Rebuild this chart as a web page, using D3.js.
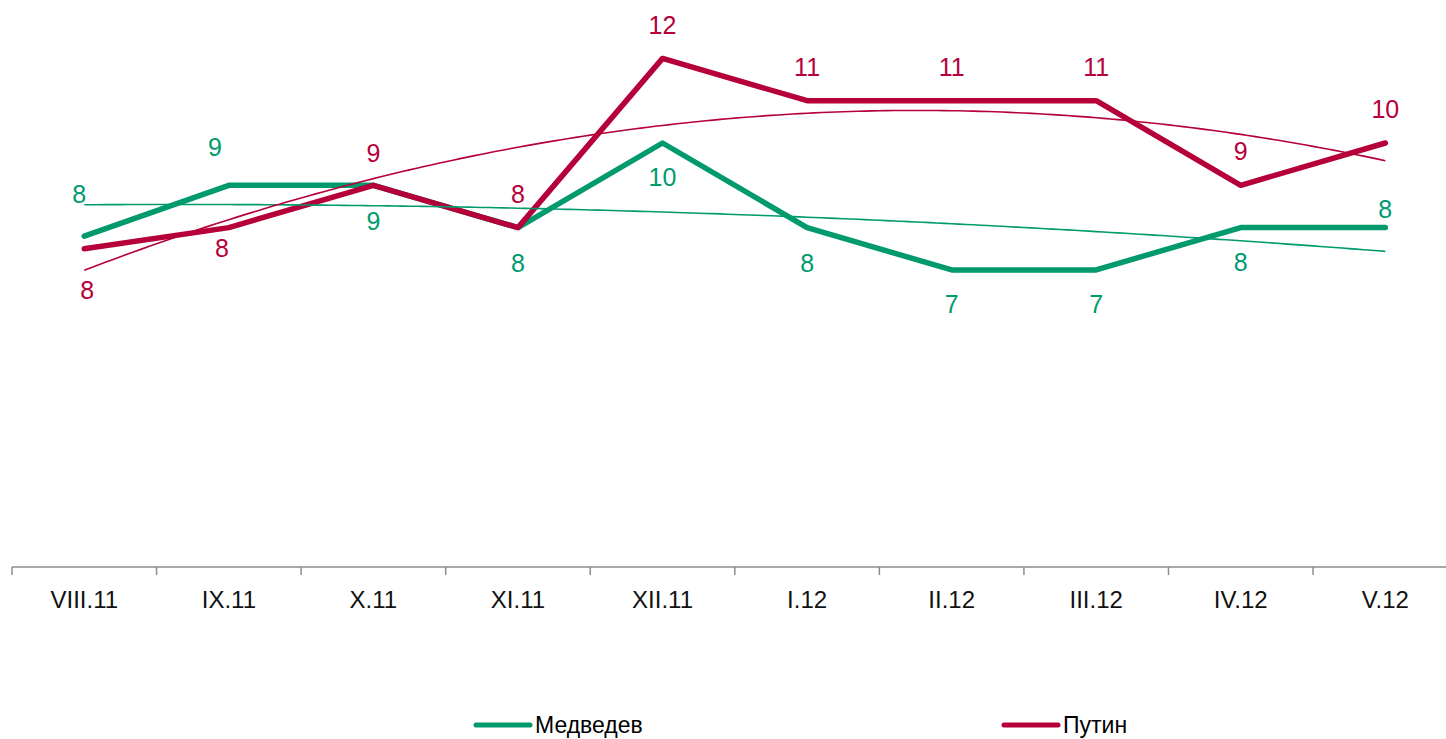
<!DOCTYPE html>
<html>
<head>
<meta charset="utf-8">
<script src="https://cdn.jsdelivr.net/npm/d3@7"></script>
<style>
  html, body { margin: 0; padding: 0; background: #fff; }
  svg { display: block; }
</style>
</head>
<body>
<svg id="chart" width="1446" height="739"></svg>
<script>
// ---- data ----
const categories = ["VIII.11", "IX.11", "X.11", "XI.11", "XII.11", "I.12", "II.12", "III.12", "IV.12", "V.12"];
const medvedev = [7.8, 9, 9, 8, 10, 8, 7, 7, 8, 8];
const putin    = [7.5, 8, 9, 8, 12, 11, 11, 11, 9, 10];
const seriesNames = ["Медведев", "Путин"];

// ---- layout (label offsets in px, relative to the point) ----
const medLabelOffset = [[-5, -42], [-14, -38.5], [0, 35.5], [0, 35.5], [0, 34], [0, 35.5], [0, 34], [0, 34], [0, 34.5], [0, -18.5]];
const putLabelOffset = [[3, 41], [-7, 20.5], [0, -32.5], [0, -33.5], [0, -33.5], [0, -33.5], [0, -33.5], [0, -33.5], [0, -34], [0, -33.5]];

const GREEN = "#009a6e";
const RED = "#b5003a";
const FONT = "'Liberation Sans', Arial, sans-serif";

const svg = d3.select("#chart");

const x = d3.scaleBand().domain(categories).range([12, 12 + 10 * 144.56]).paddingInner(0).paddingOuter(0);
const cx = c => x(c) + x.bandwidth() / 2;
const y = d3.scaleLinear().domain([0, 12]).range([566, 58.4]);

// ---- axis ----
const axisY = 567;
const xAxis = d3.axisBottom(x).tickSize(0).tickPadding(0);
const gAxis = svg.append("g").attr("transform", `translate(0,${axisY})`).call(xAxis);
gAxis.select(".domain").remove();
gAxis.selectAll(".tick text")
  .attr("y", 41)
  .attr("dy", 0)
  .style("font-family", FONT)
  .style("font-size", "24px")
  .attr("fill", "#111");
svg.append("line")
  .attr("x1", 12).attr("x2", 1446).attr("y1", axisY).attr("y2", axisY)
  .attr("stroke", "#8c8c8c").attr("stroke-width", 1.5);
svg.append("g").selectAll("line").data(categories).join("line")
  .attr("x1", d => x(d)).attr("x2", d => x(d))
  .attr("y1", axisY).attr("y2", axisY + 8)
  .attr("stroke", "#8c8c8c").attr("stroke-width", 1.5);

// ---- quadratic trend (least squares, like a spreadsheet polynomial trendline) ----
function quadFit(vals) {
  const xs = vals.map((_, i) => i + 1);
  let S = [0, 0, 0, 0, 0], T = [0, 0, 0];
  xs.forEach((xi, i) => {
    for (let k = 0; k < 5; k++) S[k] += Math.pow(xi, k);
    for (let k = 0; k < 3; k++) T[k] += Math.pow(xi, k) * vals[i];
  });
  const A = [[S[0], S[1], S[2]], [S[1], S[2], S[3]], [S[2], S[3], S[4]]];
  const b = T.slice();
  for (let i = 0; i < 3; i++) {
    for (let j = i + 1; j < 3; j++) {
      const f = A[j][i] / A[i][i];
      for (let k = i; k < 3; k++) A[j][k] -= f * A[i][k];
      b[j] -= f * b[i];
    }
  }
  const c = [0, 0, 0];
  for (let i = 2; i >= 0; i--) {
    let s = b[i];
    for (let k = i + 1; k < 3; k++) s -= A[i][k] * c[k];
    c[i] = s / A[i][i];
  }
  return t => c[0] + c[1] * t + c[2] * t * t;
}

const line = d3.line().x(d => d[0]).y(d => d[1]);

function drawSeries(vals, color) {
  svg.append("path")
    .datum(vals.map((v, i) => [cx(categories[i]), y(v)]))
    .attr("d", line)
    .attr("fill", "none")
    .attr("stroke", color)
    .attr("stroke-width", 5.5)
    .attr("stroke-linejoin", "round")
    .attr("stroke-linecap", "round");
}
function drawTrend(vals, color) {
  const f = quadFit(vals);
  const step = x.bandwidth();
  const pts = d3.range(1, vals.length + 0.001, 0.05).map(t => [cx(categories[0]) + (t - 1) * step, y(f(t))]);
  svg.append("path")
    .datum(pts)
    .attr("d", line)
    .attr("fill", "none")
    .attr("stroke", color)
    .attr("stroke-width", 1.6);
}
function drawLabels(vals, offsets, color) {
  svg.append("g").selectAll("text").data(vals).join("text")
    .attr("x", (d, i) => cx(categories[i]) + offsets[i][0])
    .attr("y", (d, i) => y(d) + offsets[i][1])
    .attr("dy", "0.35em")
    .attr("text-anchor", "middle")
    .style("font-family", FONT)
    .style("font-size", "25px")
    .attr("fill", color)
    .text(d => d3.format(".0f")(d));
}

drawSeries(medvedev, GREEN);
drawSeries(putin, RED);
drawTrend(medvedev, GREEN);
drawTrend(putin, RED);
drawLabels(medvedev, medLabelOffset, GREEN);
drawLabels(putin, putLabelOffset, RED);

// ---- legend ----
const legend = [
  { name: seriesNames[0], color: GREEN, x: 476 },
  { name: seriesNames[1], color: RED, x: 1004 }
];
const lg = svg.append("g").selectAll("g").data(legend).join("g")
  .attr("transform", d => `translate(${d.x},725)`);
lg.append("line").attr("x1", 0).attr("x2", 54).attr("y1", 0).attr("y2", 0)
  .attr("stroke", d => d.color).attr("stroke-width", 5).attr("stroke-linecap", "round");
lg.append("text").attr("x", 59).attr("y", 0).attr("dy", "0.35em")
  .style("font-family", FONT).style("font-size", "23px").attr("fill", "#000")
  .text(d => d.name);
</script>
</body>
</html>
